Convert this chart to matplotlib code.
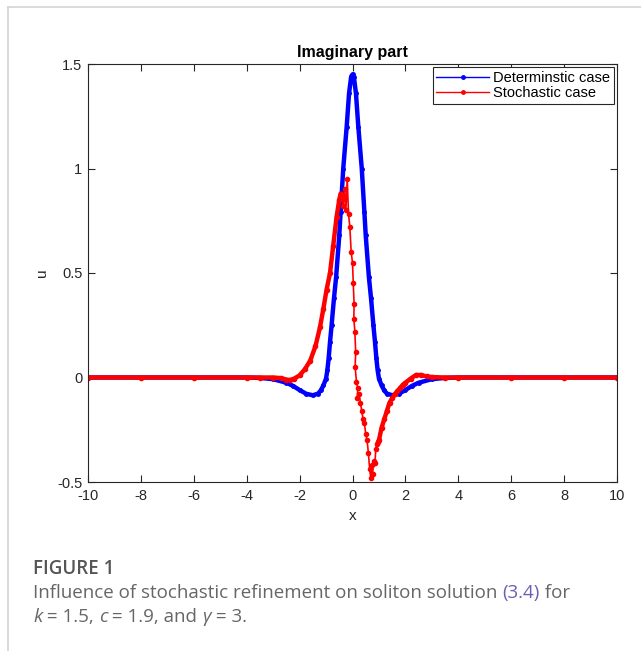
import numpy as np
import matplotlib.pyplot as plt
from matplotlib.lines import Line2D

# deterministic case
x_det = [-10, -8, -6, -4, -3.5, -3, -2.5, -2.25, -2, -1.75, -1.5, -1.3, -1.2, -1.1, -1.0,
         -0.95, -0.9, -0.85, -0.79, -0.7, -0.62, -0.5, -0.45, -0.35, -0.22, -0.13, -0.05, 0,
         0.05, 0.13, 0.22, 0.35, 0.45, 0.5, 0.62, 0.7, 0.79, 0.85, 0.9, 0.95,
         1.0, 1.1, 1.2, 1.3, 1.5, 1.75, 2, 2.25, 2.5, 3, 3.5, 4, 6, 8, 10]
u_det = [0, 0, 0, 0, -0.002, -0.008, -0.025, -0.04, -0.06, -0.078, -0.085, -0.077, -0.062, -0.038, -0.005,
         0.035, 0.095, 0.17, 0.25, 0.38, 0.48, 0.68, 0.79, 1.0, 1.2, 1.36, 1.44, 1.45,
         1.44, 1.36, 1.2, 1.0, 0.79, 0.68, 0.48, 0.38, 0.25, 0.17, 0.095, 0.035,
         -0.005, -0.038, -0.062, -0.077, -0.085, -0.078, -0.06, -0.04, -0.025, -0.008, -0.002, 0, 0, 0, 0]

# stochastic case
x_sto = [-10, -8, -6, -4, -3.5, -3, -2.7, -2.5, -2.35, -2.2, -2.0, -1.8, -1.6, -1.4, -1.23,
         -1.1, -0.98, -0.85, -0.73, -0.6, -0.5, -0.45, -0.4, -0.35, -0.3, -0.25, -0.2,
         -0.15, -0.1, -0.05, 0.0, 0.03, 0.06, 0.05, 0.09, 0.12, 0.1, 0.15, 0.2, 0.18,
         0.25, 0.3, 0.35, 0.4, 0.45, 0.5, 0.55, 0.6, 0.65, 0.69, 0.72, 0.76, 0.8, 0.85,
         0.88, 0.92, 0.96, 1.0, 1.1, 1.2, 1.3, 1.4, 1.5, 1.6, 1.7, 1.8, 1.9, 2.0, 2.2,
         2.4, 2.6, 2.8, 3.0, 3.5, 4, 6, 8, 10]
u_sto = [0, 0, 0, 0, 0, 0, -0.003, -0.01, -0.012, -0.005, 0.01, 0.04, 0.08, 0.15, 0.24,
         0.33, 0.42, 0.5, 0.63, 0.77, 0.85, 0.88, 0.87, 0.82, 0.9, 0.8, 0.95,
         0.78, 0.72, 0.6, 0.55, 0.45, 0.35, 0.28, 0.22, 0.12, 0.05, -0.02, -0.05, -0.1,
         -0.08, -0.12, -0.16, -0.2, -0.22, -0.27, -0.3, -0.36, -0.44, -0.48, -0.42, -0.46, -0.4, -0.41,
         -0.34, -0.32, -0.31, -0.3, -0.24, -0.2, -0.16, -0.12, -0.1, -0.08, -0.065, -0.05, -0.035, -0.025, -0.005,
         0.012, 0.012, 0.005, 0.002, 0, 0, 0, 0, 0]

xticks = [-10, -8, -6, -4, -2, 0, 2, 4, 6, 8, 10]
xtick_labels = ['-10', '-8', '-6', '-4', '-2', '0', '2', '4', '6', '8', '10']
yticks = [-0.5, 0, 0.5, 1, 1.5]
ytick_labels = ['-0.5', '0', '0.5', '1', '1.5']

plt.rcParams['font.family'] = ['Liberation Sans', 'DejaVu Sans']
plt.rcParams['axes.unicode_minus'] = False

fig = plt.figure(figsize=(6.41, 6.51), dpi=100)
W, H = 641, 651
ax = fig.add_axes([88 / W, 1 - 482 / H, (617 - 88) / W, (482 - 64) / H])

x_sto = np.array(x_sto)
u_sto = np.array(u_sto)

ax.plot(x_det, u_det, color='#0000ff', lw=3.2, marker='.', ms=5, solid_capstyle='round',
        solid_joinstyle='round')
ax.plot(x_sto, u_sto, color='#ff0000', lw=1.2, marker='.', ms=6)
dense = (x_sto <= -0.45)
ax.plot(x_sto[dense], u_sto[dense], color='#ff0000', lw=3.2, solid_capstyle='round',
        solid_joinstyle='round')
dense = (x_sto >= 0.96)
ax.plot(x_sto[dense], u_sto[dense], color='#ff0000', lw=3.2, solid_capstyle='round',
        solid_joinstyle='round')

ax.set_xlim(-10, 10)
ax.set_ylim(-0.5, 1.5)
ax.set_xticks(xticks)
ax.set_xticklabels(xtick_labels)
ax.set_yticks(yticks)
ax.set_yticklabels(ytick_labels)
ax.tick_params(direction='in', top=True, right=True, length=5, width=0.8,
               labelsize=10.5, colors='#262626', labelcolor='#262626')
ax.tick_params(axis='x', pad=5)
ax.tick_params(axis='y', pad=4)
for s in ax.spines.values():
    s.set_color('#262626')
    s.set_linewidth(0.8)

ax.set_title('Imaginary part', fontsize=11.5, fontweight='bold', pad=5)
ax.set_xlabel('x', fontsize=11, color='#262626', labelpad=4)
ax.set_ylabel('u', fontsize=11, color='#262626', labelpad=6)

handles = [Line2D([], [], color='#0000ff', lw=1, marker='.', ms=5, markevery=[1]),
           Line2D([], [], color='#ff0000', lw=1, marker='.', ms=5, markevery=[1])]
for h in handles:
    h.set_data([0, 0.5, 1], [0, 0, 0])
leg = ax.legend(handles, ['Determinstic case', 'Stochastic case'], loc='upper right',
                bbox_to_anchor=((614 - 88) / 529, (482 - 67) / 418), borderaxespad=0,
                fontsize=10.5, handlelength=3.6, handletextpad=0.3, labelspacing=0.1,
                borderpad=0.25, fancybox=False, framealpha=1)
leg.get_frame().set_edgecolor('#262626')
leg.get_frame().set_linewidth(0.8)

# page frame lines
fig.add_artist(Line2D([8 / W, 1], [1 - 7 / H, 1 - 7 / H], color='#d4d4d4', lw=1.2))
fig.add_artist(Line2D([8 / W, 8 / W], [0, 1 - 7 / H], color='#d4d4d4', lw=1.2))

# caption
cap_font = ['Open Sans', 'DejaVu Sans']
fig.text(33 / W, 1 - 569 / H, 'FIGURE 1', fontsize=13.5, fontweight='semibold',
         color='#555555', family=cap_font, va='center')

renderer = fig.canvas.get_renderer()


def write_line(pieces, x0, y0):
    x = x0
    for txt, col, style in pieces:
        t = fig.text(x / W, 1 - y0 / H, txt, fontsize=13.5, color=col, style=style,
                     family=cap_font, va='center')
        bb = t.get_window_extent(renderer=renderer)
        x += bb.width


grey = '#666666'
write_line([('Influence of stochastic refinement on soliton solution ', grey, 'normal'),
            ('(3.4)', '#6b5fb5', 'normal'),
            (' for', grey, 'normal')], 33, 593)
write_line([('k', grey, 'italic'), (' = 1.5, ', grey, 'normal'), ('c', grey, 'italic'),
            (' = 1.9, and ', grey, 'normal'), ('γ', grey, 'italic'),
            (' = 3.', grey, 'normal')], 33, 617)

fig.savefig('out.png', dpi=100)
